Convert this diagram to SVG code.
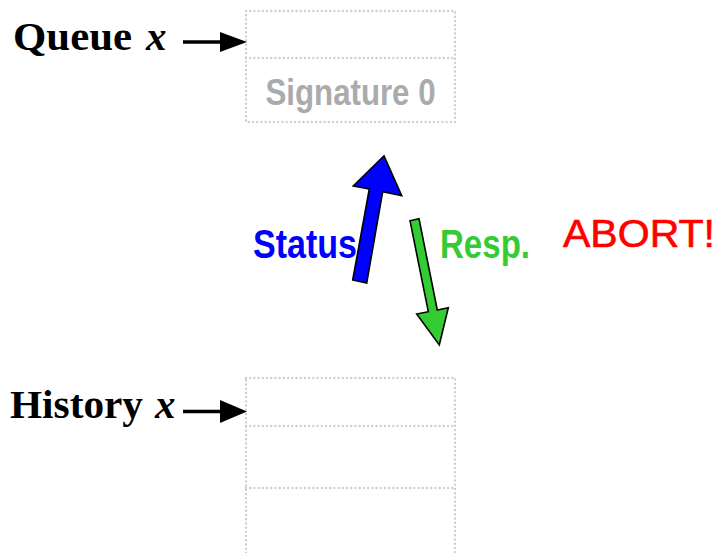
<svg xmlns="http://www.w3.org/2000/svg" width="722" height="553" viewBox="0 0 722 553">
<style>
.dot{fill:none;stroke:#cfcfcf;stroke-width:2.4;stroke-linecap:round;stroke-dasharray:0.01 4.2}
.lbl{font-family:"Liberation Serif","Times New Roman",serif;font-weight:bold;font-size:41px;fill:#000}
.it{font-style:italic}
.nar{font-family:"Liberation Sans Narrow","Liberation Sans",Arial,sans-serif;font-weight:bold}
.ptr{stroke:#000;stroke-width:3.5;fill:none}
.head{fill:#000}
.fat{stroke:#000;stroke-width:1.6;stroke-linejoin:miter}
</style>
<rect width="722" height="553" fill="#fff"/>
<g id="queue-box">
<rect class="dot" x="246" y="11" width="209" height="111"/>
<line class="dot" x1="246" y1="58" x2="455" y2="58"/>
<text class="nar" x="350.5" y="105" font-size="36" fill="#ababab" text-anchor="middle" textLength="170" lengthAdjust="spacingAndGlyphs">Signature 0</text>
</g>
<g id="history-box">
<rect class="dot" x="246" y="378" width="209" height="190"/>
<line class="dot" x1="246" y1="426" x2="455" y2="426"/>
<line class="dot" x1="246" y1="488" x2="455" y2="488"/>
</g>
<g id="queue-label">
<text class="lbl" x="13" y="49.5" textLength="119" lengthAdjust="spacingAndGlyphs">Queue</text>
<text class="lbl it" x="146" y="49.5">x</text>
</g>
<g id="history-label">
<text class="lbl" x="10" y="417.5" textLength="133" lengthAdjust="spacingAndGlyphs">History</text>
<text class="lbl it" x="155" y="417.5">x</text>
</g>
<g id="status">
<text class="nar" x="253" y="258" font-size="41" fill="#0000ff" textLength="104" lengthAdjust="spacingAndGlyphs">Status</text>
</g>
<g id="resp">
<text class="nar" x="440" y="258" font-size="41" fill="#33cc33" textLength="90" lengthAdjust="spacingAndGlyphs">Resp.</text>
</g>
<g id="abort">
<text x="563" y="247" font-family="'Liberation Sans',Arial,sans-serif" font-size="38" fill="#ff0000" stroke="#ff0000" stroke-width="0.6" textLength="152" lengthAdjust="spacingAndGlyphs">ABORT!</text>
</g>
<g id="connectors">
<line class="ptr" x1="183" y1="42" x2="222" y2="42"/>
<path class="head" d="M220,32 L247,42 L220,52 Z"/>
<line class="ptr" x1="183" y1="411.5" x2="222" y2="411.5"/>
<path class="head" d="M220,400 L247,411.5 L220,423 Z"/>
<path class="fat" fill="#0000ff" d="M352.7,280 L366.7,283 L382.7,191.7 L401.7,195.7 L384,156 L353.3,186 L369.3,189 Z"/>
<path class="fat" fill="#33cc33" d="M410,220.7 L419,218.7 L437.3,310 L448.3,307.7 L439.3,345 L416.7,314 L428.3,311.7 Z"/>
</g>
</svg>
